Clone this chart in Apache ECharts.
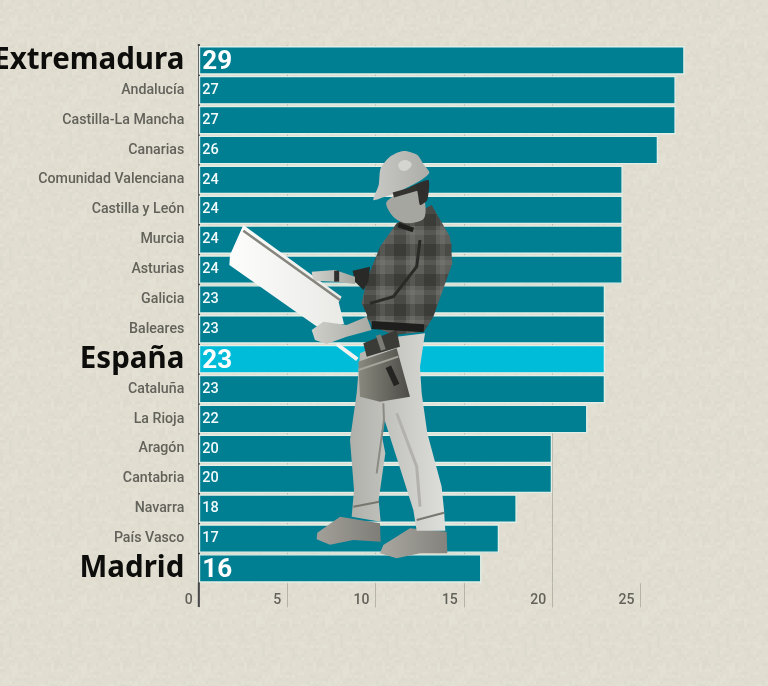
<!DOCTYPE html>
<html>
<head>
<meta charset="utf-8">
<style>html,body{margin:0;padding:0;background:#e1ded1;}#main{width:768px;height:686px;}</style>
<script src="https://cdn.jsdelivr.net/npm/echarts@6/dist/echarts.min.js"></script>
</head>
<body>
<div id="main"></div>
<script>
var categories = ['Extremadura','Andalucía','Castilla-La Mancha','Canarias','Comunidad Valenciana','Castilla y León','Murcia','Asturias','Galicia','Baleares','España','Cataluña','La Rioja','Aragón','Cantabria','Navarra','País Vasco','Madrid'];
// printed figures
var valueLabels = [29,27,27,26,24,24,24,24,23,23,23,23,22,20,20,18,17,16];
// drawn length: the top bar is shorter in the picture than its label says
var barLengths = [27.5,27,27,26,24,24,24,24,23,23,23,23,22,20,20,18,17,16];
var bigNames = ['Extremadura','España','Madrid'];
var highlight = 'España';
var xTicks = [0,5,10,15,20,25];

var TEAL = '#007e92', CYAN = '#00bcd9', BG = '#e1ded1', GAP = '#e2efe8', LABEL = '#62615a';

// paper grain for the background
function grainTile(){
	var c = document.createElement('canvas');
	c.width = c.height = 193;
	var g = c.getContext('2d');
	g.fillStyle = BG;
	g.fillRect(0,0,193,193);
	for(var y = 0; y < 193; y += 3){
		for(var x = 0; x < 193; x += 3){
			var h = (x*x*7 + y*y*13 + x*y*3 + x*31) % 23;
			if(h < 9){
				g.fillStyle = h % 2 ? 'rgba(255,255,250,0.07)' : 'rgba(120,115,95,0.03)';
				g.fillRect(x,y,3,3);
			}
		}
	}
	return c;
}
// shirt check
function plaidTile(){
	var c = document.createElement('canvas');
	c.width = c.height = 30;
	var g = c.getContext('2d');
	g.fillStyle = '#5e5e5a';
	g.fillRect(0,0,30,30);
	g.fillStyle = 'rgba(30,30,28,0.32)';
	g.fillRect(0,4,30,12);
	g.fillRect(4,0,12,30);
	g.fillStyle = 'rgba(170,170,165,0.14)';
	g.fillRect(20,0,5,30);
	g.fillRect(0,20,30,5);
	return c;
}

// the worker cut-out, outlines traced on a 3x crop whose corner is (220,140)
function pts(a){
	var p = [];
	for(var i = 0; i < a.length; i += 2){
		p.push([220 + a[i]/3, 140 + a[i+1]/3]);
	}
	return p;
}
function poly(a, fill, smooth){
	return {type:'polygon', shape:{points:pts(a), smooth:smooth || 0}, style:{fill:fill}, z:50};
}
function stroke(a, color, w){
	return {type:'polyline', shape:{points:pts(a)}, style:{stroke:color, lineWidth:w, fill:null}, z:51};
}
function shade(c1, c2){
	return new echarts.graphic.LinearGradient(0,0,1,0,[{offset:0,color:c1},{offset:1,color:c2}]);
}
var plaid = {image:plaidTile(), repeat:'repeat'};
var worker = [
	// rod and paper
	stroke([350,612,412,658],'#f2f2f0',4),
	poly([70,255,365,470,356,486,372,552,300,566,28,375,30,345],shade('#fdfdfc','#e9e9e6')),
	stroke([70,272,360,480],'#85857d',2.5),
	// boots
	poly([360,1130,480,1150,482,1205,400,1200,330,1214,290,1198,292,1178],shade('#a3a09a','#7f7d77')),
	poly([570,1165,680,1175,682,1240,600,1240,530,1255,480,1240,490,1215],shade('#aaa7a1','#84827c')),
	// trousers
	poly([530,590,615,580,600,680,605,760,622,880,665,1040,672,1110,676,1172,590,1172,580,1110,545,1000,492,835,484,880,496,940,476,1080,482,1145,395,1130,402,1050,390,900,410,760,420,640],shade('#b0b0ab','#dededa')),
	stroke([490,790,492,840,470,1000],'#8b8b84',2),
	stroke([530,820,590,980,600,1100],'#b2b1ab',3),
	stroke([590,1140,672,1118],'#77776f',2),
	stroke([400,1100,478,1085],'#77776f',2),
	// shirt
	poly([530,250,635,195,690,290,697,370,640,530,612,575,520,585,455,555,425,490,440,420,480,320],plaid),
	poly([600,300,695,310,692,385,612,540,490,572,440,535,450,490,520,470,590,380],plaid),
	stroke([600,300,590,380,520,470,450,490],'#2a2a28',3),
	stroke([455,555,612,565],'#1e1e1c',8),
	stroke([535,255,580,270],'#1e1e1c',5),
	// forearms, hands
	poly([398,392,450,380,445,425,430,450,405,425],'#292927'),
	poly([275,395,345,390,405,410,405,432,345,425,280,422],shade('#d2d2cd','#a6a6a1')),
	stroke([350,392,350,425],'#2e2e2c',5),
	poly([275,570,310,545,380,555,440,530,455,570,380,590,320,612,285,600],shade('#cfcfca','#a9a9a4')),
	// tool belt
	poly([430,610,530,570,540,620,440,650],'#3a3a37'),
	stroke([475,585,490,630],'#7c7c76',5),
	poly([415,665,530,625,570,770,480,785,420,770],shade('#8a897f','#4c4b46')),
	stroke([415,690,535,650],'#a5a49b',2),
	stroke([505,680,530,735],'#242422',6),
	// head and helmet
	poly([500,185,590,140,612,170,612,235,560,250,520,230],'#a6a6a1',0.3),
	poly([555,150,625,120,622,180,600,195,590,150],'#2f2e2c',0.2),
	stroke([520,165,590,145],'#33322f',5),
	poly([460,180,476,135,482,85,510,50,550,33,592,45,612,75,628,98,600,122,535,155,490,172],shade('#c8c8c5','#acacA9'),0.25),
	poly([535,72,555,60,575,72,562,90,542,90],'#d4d4d1',0.4)
];

var chart = echarts.init(document.getElementById('main'));
var option = {
	animation:false,
	backgroundColor:{image:grainTile(), repeat:'repeat'},
	grid:{left:198.8, top:45.4, width:530, height:538, outerBoundsMode:'none'},
	xAxis:{
		type:'value', min:0, max:30, interval:5,
		axisLine:{show:false},
		axisTick:{show:true, inside:false, length:24, customValues:xTicks, lineStyle:{color:'#b7b5aa'}},
		splitLine:{show:true, showMaxLine:false, lineStyle:{color:'#b7b5aa'}},
		axisLabel:{
			customValues:xTicks, margin:10, align:'right', padding:[0,6,0,0],
			fontFamily:'Roboto', fontSize:14, fontWeight:500, color:LABEL
		}
	},
	yAxis:{
		type:'category', inverse:true, data:categories,
		axisTick:{show:false},
		axisLine:{show:true, lineStyle:{color:'#47474a', width:2}},
		axisLabel:{
			margin:14.5,
			formatter:function(v){
				return bigNames.indexOf(v) >= 0 ? '{big|'+v+'}' : '{small|'+v+'}';
			},
			rich:{
				big:{fontFamily:'Noto Sans', fontWeight:700, fontSize:29.5, color:'#0d0d0b'},
				small:{fontFamily:'Roboto', fontWeight:500, fontSize:14.2, color:LABEL}
			}
		}
	},
	series:[{
		type:'bar',
		barWidth:28.6,
		data:barLengths.map(function(v,i){
			var big = bigNames.indexOf(categories[i]) >= 0;
			return {
				value:v,
				itemStyle:{color: categories[i] == highlight ? CYAN : TEAL, borderColor:GAP, borderWidth:1.4},
				label:big ? {fontSize:26, fontWeight:700, color:'#fff', offset:[0,2]} : {fontSize:14.5, fontWeight:500, color:'#f2fbfb'}
			};
		}),
		label:{
			show:true, position:'insideLeft', distance:3.5, fontFamily:'Roboto',
			formatter:function(p){
				return '' + valueLabels[p.dataIndex];
			}
		}
	}],
	graphic:worker
};
chart.setOption(option);
// the vertical axis runs on below the last bar, down past the tick labels
var axisX = chart.convertToPixel({xAxisIndex:0},0);
var axisBottom = chart.convertToPixel({yAxisIndex:0},'Madrid') + 15;
worker.push({type:'line', shape:{x1:axisX, y1:axisBottom-1, x2:axisX, y2:607}, style:{stroke:'#47474a', lineWidth:2}, z:40});
worker.push({type:'line', shape:{x1:axisX, y1:44, x2:axisX, y2:46}, style:{stroke:'#47474a', lineWidth:2}, z:40});
chart.setOption({graphic:worker});
</script>
</body>
</html>
